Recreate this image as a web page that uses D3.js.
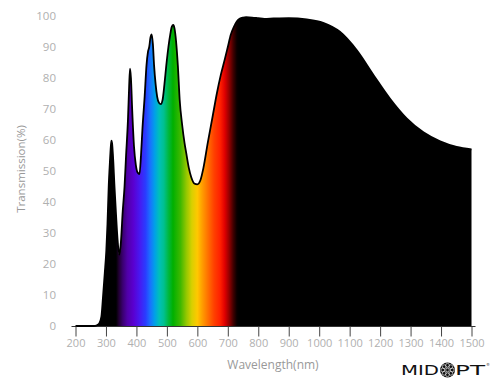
<!DOCTYPE html>
<html>
<head>
<meta charset="utf-8">
<script src="https://cdn.jsdelivr.net/npm/d3@7"></script>
<style>
  html, body { margin: 0; padding: 0; background: #fff; }
  svg { display: block; }
</style>
</head>
<body>
<svg id="chart" width="500" height="388"></svg>
<script>
// ---- data ----
const wavelengths = [200, 260, 270, 278, 285, 290, 296, 301, 305, 309, 313, 316, 318, 320, 323, 328, 333, 338, 344, 349, 355, 361, 366, 372, 376, 379, 382, 386, 392, 398, 404, 410, 415, 420, 427, 433, 438, 442, 446, 450, 454, 458, 463, 468, 474, 480, 486, 492, 498, 505, 511, 516, 521, 525, 530, 536, 542, 550, 558, 564, 572, 580, 590, 600, 610, 620, 634, 650, 664, 677, 690, 700, 710, 720, 730, 740, 750, 760, 780, 800, 820, 850, 900, 959, 1013, 1068, 1123, 1178, 1232, 1287, 1342, 1397, 1451, 1500];
const transmission = [0, 0, 0.2, 0.8, 3, 9, 17, 24, 33, 45, 53, 58, 59.8, 59, 55, 45, 36, 28, 23, 27, 37, 45, 55, 66, 77, 83, 80, 70, 58, 52, 49.5, 49, 55, 64, 74, 84, 88.5, 90, 93, 94.1, 91, 84, 78, 74, 72, 71.6, 73, 78, 84, 90, 94, 96.5, 97.1, 96, 92, 84, 73, 65, 59, 55.5, 51, 48, 46, 45.7, 47, 51, 59, 67.5, 75, 81, 86, 90, 94, 96.5, 98.3, 99.2, 99.5, 99.6, 99.5, 99.3, 99.1, 99.2, 99.3, 98.9, 97.8, 94.9, 89, 81, 73.4, 67.0, 62.5, 59.6, 57.8, 57];
const xTicks = [200, 300, 400, 500, 600, 700, 800, 900, 1000, 1100, 1200, 1300, 1400, 1500];
const yTicks = [0, 10, 20, 30, 40, 50, 60, 70, 80, 90, 100];
const spectrumNm = [300, 333, 342, 355, 370, 390, 410, 430, 445, 460, 475, 490, 505, 520, 545, 565, 582, 600, 615, 635, 655, 675, 690, 705, 718, 730, 737];
const spectrumColor = ["#000000", "#000000", "#200030", "#3a0070", "#5000a8", "#5a00d0", "#4818f0", "#2a3cff", "#1a70ff", "#00a0e8", "#00c0b8", "#00c090", "#00b840", "#00b000", "#40b800", "#98c800", "#d8d000", "#ffc800", "#ffa000", "#ff7000", "#ff4000", "#ff2000", "#e00000", "#900000", "#400000", "#080000", "#000000"];
const xTitle = "Wavelength(nm)";
const yTitle = "Transmission(%)";

const data = wavelengths.map((w, i) => ({ w, t: transmission[i] }));

// ---- layout ----
const svg = d3.select("#chart");
const x = d3.scaleLinear().domain([200, 1500]).range([75.5, 471.5]);
const y = d3.scaleLinear().domain([0, 100]).range([326, 16]);

// gradient
const defs = svg.append("defs");
const grad = defs.append("linearGradient")
  .attr("id", "spec")
  .attr("gradientUnits", "userSpaceOnUse")
  .attr("x1", x(spectrumNm[0])).attr("x2", x(spectrumNm[spectrumNm.length - 1]))
  .attr("y1", 0).attr("y2", 0);
const span = spectrumNm[spectrumNm.length - 1] - spectrumNm[0];
spectrumNm.forEach((nm, i) => {
  grad.append("stop")
    .attr("offset", ((nm - spectrumNm[0]) / span))
    .attr("stop-color", spectrumColor[i]);
});

// x axis line
svg.append("line")
  .attr("x1", x(200) - 4).attr("x2", x(1500) + 4)
  .attr("y1", y(0) + 0.5).attr("y2", y(0) + 0.5)
  .attr("stroke", "#333").attr("stroke-width", 1);

// area + line
const area = d3.area().x(d => x(d.w)).y0(y(0)).y1(d => y(d.t)).curve(d3.curveMonotoneX);
const line = d3.line().x(d => x(d.w)).y(d => y(d.t)).curve(d3.curveMonotoneX);

svg.append("path").datum(data).attr("d", area).attr("fill", "url(#spec)");
svg.append("path").datum(data).attr("d", line)
  .attr("fill", "none").attr("stroke", "#000").attr("stroke-width", 1.8)
  .attr("stroke-linejoin", "round");

// x axis
const xAxis = svg.append("g")
  .attr("transform", `translate(0,${y(0) + 0.5})`)
  .call(d3.axisBottom(x).tickValues(xTicks).tickSize(10).tickPadding(3).tickFormat(d3.format("d")));
xAxis.select(".domain").remove();
xAxis.selectAll(".tick line").attr("stroke", "#444");
xAxis.selectAll(".tick text")
  .attr("fill", "#b0b0b0").attr("font-family", "'Open Sans', sans-serif").attr("font-size", 11);

// y axis
const yAxis = svg.append("g")
  .attr("transform", "translate(56,0)")
  .call(d3.axisLeft(y).tickValues(yTicks).tickSize(0).tickPadding(0).tickFormat(d3.format("d")));
yAxis.select(".domain").remove();
yAxis.selectAll(".tick text")
  .attr("fill", "#b0b0b0").attr("font-family", "'Open Sans', sans-serif").attr("font-size", 11.5);

// titles
svg.append("text")
  .attr("x", 273).attr("y", 369)
  .attr("text-anchor", "middle")
  .attr("fill", "#999").attr("font-family", "'Open Sans', sans-serif").attr("font-size", 12)
  .text(xTitle);
svg.append("text")
  .attr("transform", "translate(25,169) rotate(-90)")
  .attr("text-anchor", "middle")
  .attr("fill", "#999").attr("font-family", "'Open Sans', sans-serif").attr("font-size", 11.5)
  .text(yTitle);

// logo
const logo = svg.append("g");
logo.append("text")
  .attr("x", 401).attr("y", 375)
  .attr("font-family", "'DejaVu Sans', sans-serif").attr("font-size", 14)
  .attr("textLength", 38).attr("lengthAdjust", "spacingAndGlyphs")
  .attr("fill", "#111").text("MID");
logo.append("text")
  .attr("x", 455).attr("y", 375)
  .attr("font-family", "'DejaVu Sans', sans-serif").attr("font-size", 14)
  .attr("textLength", 30).attr("lengthAdjust", "spacingAndGlyphs")
  .attr("fill", "#111").text("PT");
logo.append("text")
  .attr("x", 486).attr("y", 366)
  .attr("font-family", "'DejaVu Sans', sans-serif").attr("font-size", 4)
  .attr("fill", "#333").text("®");
const cx = 447.5, cy = 370;
logo.append("circle").attr("cx", cx).attr("cy", cy).attr("r", 7.5).attr("fill", "#111");
d3.range(8).forEach(i => {
  const a = i * Math.PI / 4;
  logo.append("circle").attr("cx", cx + 4.7 * Math.cos(a)).attr("cy", cy + 4.7 * Math.sin(a))
    .attr("r", 1.9).attr("fill", "none").attr("stroke", "#fff").attr("stroke-width", 0.6);
});
logo.append("circle").attr("cx", cx).attr("cy", cy).attr("r", 1.8)
  .attr("fill", "none").attr("stroke", "#fff").attr("stroke-width", 0.6);
</script>
</body>
</html>
